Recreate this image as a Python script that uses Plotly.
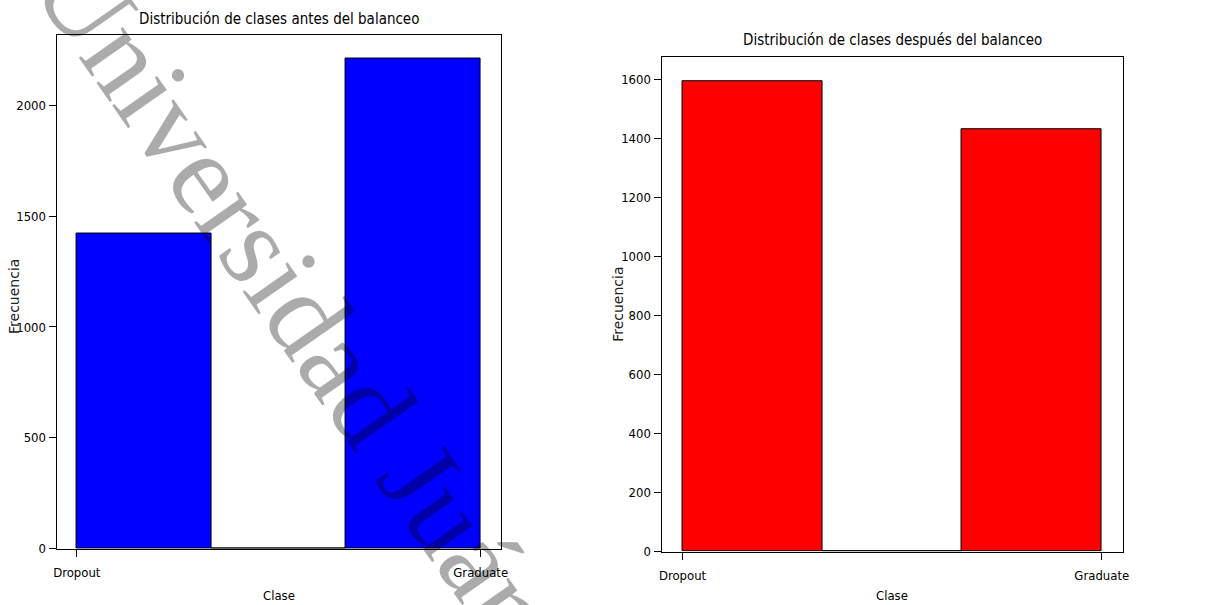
import numpy as np
import plotly.graph_objects as go

# ---- data ----
categories = ["Dropout", "Graduate"]
counts_before = [1421, 2209]
counts_after = [1595, 1431]
title_before = "Distribución de clases antes del balanceo"
title_after = "Distribución de clases después del balanceo"
x_label = "Clase"
y_label = "Frecuencia"
watermark = "Universidad Juárez"

W, H = 1217, 605
NARROW = "Liberation Sans Narrow, DejaVu Sans Condensed, Liberation Sans, sans-serif"
NBINS = 3


def hist_bars(counts):
    idx = np.arange(len(categories))
    hist, edges = np.histogram(idx, bins=NBINS, range=(idx.min(), idx.max()), weights=counts)
    centers = (edges[:-1] + edges[1:]) / 2
    return centers, hist, edges[1] - edges[0]


fig = go.Figure()

for i, (counts, color) in enumerate([(counts_before, "#0000ff"), (counts_after, "#ff0000")]):
    cx, cy, w = hist_bars(counts)
    suffix = "" if i == 0 else "2"
    fig.add_trace(go.Bar(
        x=cx, y=cy, width=w,
        marker=dict(color=color, line=dict(color="black", width=1)),
        xaxis="x" + suffix, yaxis="y" + suffix, showlegend=False,
    ))

# panel pixel boxes (left, right, top, bottom)
boxes = [(54, 502, 35, 556), (664, 1129, 58, 559)]

def px2x(p):
    return p / W

def px2y(p):
    return 1 - p / H

axis_common = dict(
    showline=True, mirror=True, linecolor="black", linewidth=1,
    ticks="outside", ticklen=7, tickcolor="black", tickwidth=1,
    showgrid=False, zeroline=False,
    tickfont=dict(family=NARROW, size=13, color="black"),
)

layout = dict(
    width=W, height=H,
    margin=dict(l=0, r=0, t=0, b=0),
    paper_bgcolor="white", plot_bgcolor="white",
    bargap=0,
)

ymaxes = [max(counts_before) * 1.05, max(counts_after) * 1.05]
dticks = [500, 200]
for i, (l, r, t, b) in enumerate(boxes):
    xs = "xaxis" if i == 0 else "xaxis2"
    ys = "yaxis" if i == 0 else "yaxis2"
    anchor_x = "y" if i == 0 else "y2"
    anchor_y = "x" if i == 0 else "x2"
    layout[xs] = dict(
        domain=[px2x(l), px2x(r)], anchor=anchor_x,
        range=[-0.05, len(categories) - 1 + 0.05],
        tickmode="array", tickvals=list(range(len(categories))), ticktext=categories,
        ticklabelstandoff=5,
        **axis_common,
    )
    layout[ys] = dict(
        domain=[px2y(b), px2y(t)], anchor=anchor_y,
        range=[0, ymaxes[i]], dtick=dticks[i],
        **axis_common,
    )

fig.update_layout(**layout)

annotations = []
title_y = [19, 41]
ylab_x = [11, 620]
ylab_y = [300, 308]
for i, (l, r, t, b) in enumerate(boxes):
    cx = (l + r) / 2
    annotations.append(dict(
        text=[title_before, title_after][i], xref="paper", yref="paper",
        x=px2x(cx), y=px2y(title_y[i]), xanchor="center", yanchor="middle",
        showarrow=False, font=dict(family=NARROW, size=15, color="black"),
    ))
    annotations.append(dict(
        text=x_label, xref="paper", yref="paper",
        x=px2x(cx), y=0, xanchor="center", yanchor="bottom", yshift=-8,
        showarrow=False, font=dict(family=NARROW, size=13, color="black"),
    ))
    annotations.append(dict(
        text=y_label, xref="paper", yref="paper",
        x=px2x(ylab_x[i]), y=px2y(ylab_y[i]), xanchor="center", yanchor="middle",
        textangle=-90, showarrow=False,
        font=dict(family="DejaVu Sans", size=14, color="#222222"),
    ))

annotations.append(dict(
    text=watermark, xref="paper", yref="paper",
    x=px2x(319), y=px2y(337), xanchor="center", yanchor="middle",
    textangle=55, showarrow=False,
    font=dict(family="Liberation Serif", size=117, color="rgba(0,0,0,0.33)"),
))

fig.update_layout(annotations=annotations)

fig.write_html("out.html")
